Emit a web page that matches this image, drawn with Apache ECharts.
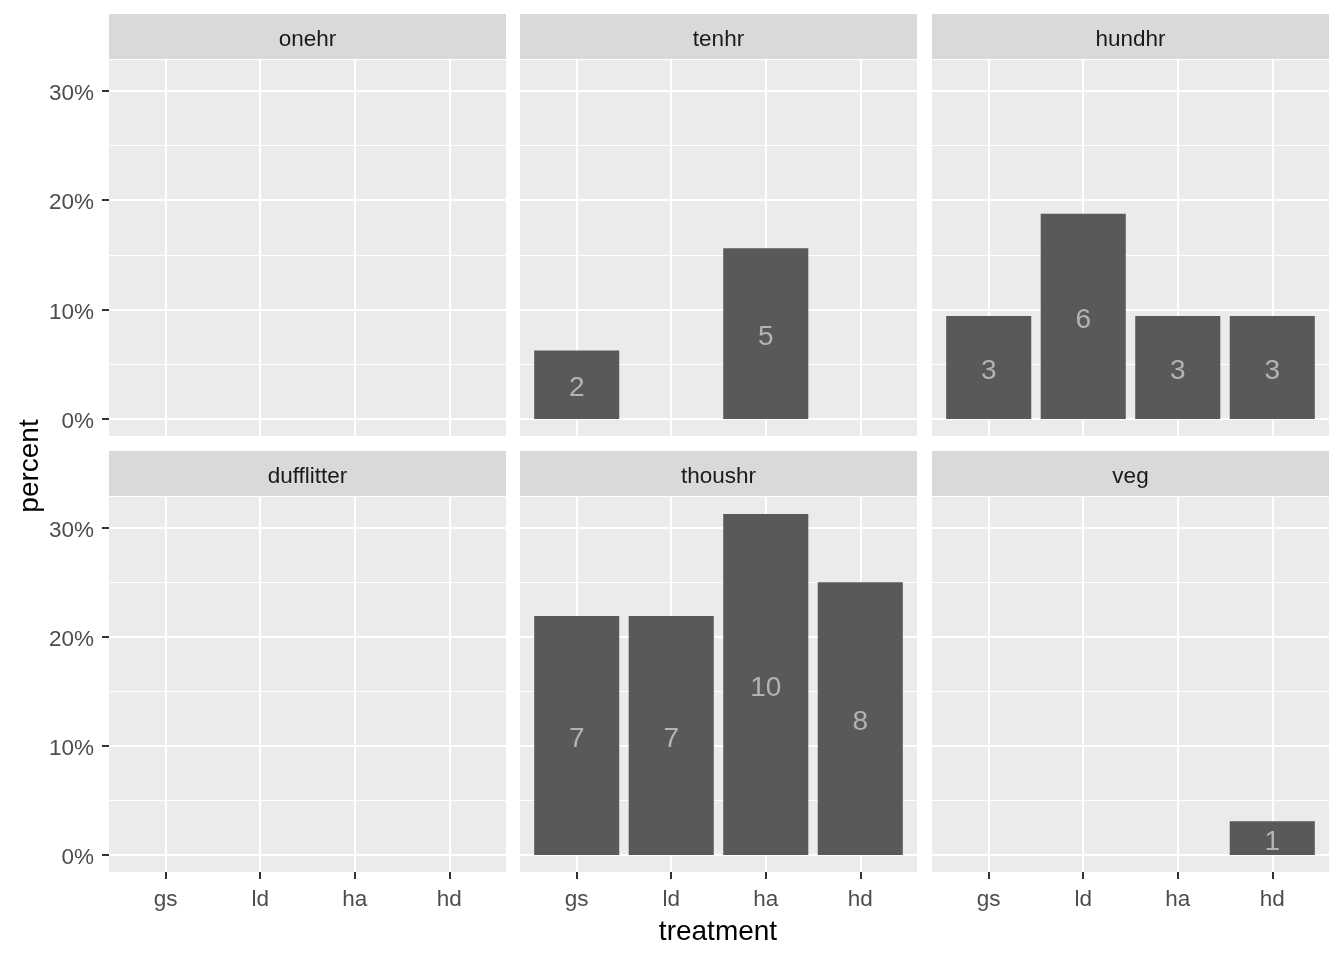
<!DOCTYPE html>
<html>
<head>
<meta charset="utf-8">
<script src="https://cdn.jsdelivr.net/npm/echarts@6/dist/echarts.min.js"></script>
<style>html,body{margin:0;padding:0;background:#fff}#c{width:1344px;height:960px}</style>
</head>
<body>
<div id="c"></div>
<script>
const facets = ['onehr', 'tenhr', 'hundhr', 'dufflitter', 'thoushr', 'veg'];
const treatments = ['gs', 'ld', 'ha', 'hd'];
const yTicks = [0, 10, 20, 30];
const yMinor = [5, 15, 25];
// percent of all observations, per facet, per treatment (null = no bar)
const pctOnehr = [null, null, null, null];
const pctTenhr = [6.25, null, 15.6, null];
const pctHundhr = [9.4, 18.75, 9.4, 9.4];
const pctDufflitter = [null, null, null, null];
const pctThoushr = [21.9, 21.9, 31.25, 25];
const pctVeg = [null, null, null, 3.1];
// counts shown as labels
const cntOnehr = [null, null, null, null];
const cntTenhr = [2, null, 5, null];
const cntHundhr = [3, 6, 3, 3];
const cntDufflitter = [null, null, null, null];
const cntThoushr = [7, 7, 10, 8];
const cntVeg = [null, null, null, 1];

const pcts = [pctOnehr, pctTenhr, pctHundhr, pctDufflitter, pctThoushr, pctVeg];
const cnts = [cntOnehr, cntTenhr, cntHundhr, cntDufflitter, cntThoushr, cntVeg];

const colLeft = [109, 520, 932];
const rowTop = [60, 497];
const rowH = [376, 375];
const panelW = 397;
const stripH = 45;
const xMin = 0.4, xMax = 4.6;
const yMin = -1.5625, yMax = 32.8125;
const barW = 0.9 * panelW / (xMax - xMin);
const font = '"Liberation Sans", Arial, sans-serif';

const grids = [], xAxes = [], yAxes = [], series = [], graphics = [];
facets.forEach((name, i) => {
  const col = i % 3, row = Math.floor(i / 3);
  grids.push({left: colLeft[col], top: rowTop[row], width: panelW, height: rowH[row],
    show: true, backgroundColor: '#EBEBEB', borderWidth: 0, containLabel: false});
  const bottomRow = row === 1, leftCol = col === 0;
  xAxes.push({type: 'value', gridIndex: i, min: xMin, max: xMax, position: 'bottom',
    axisLine: {show: false, onZero: false},
    axisTick: {show: bottomRow, customValues: [1, 2, 3, 4], length: 7, lineStyle: {color: '#333333', width: 2}},
    axisLabel: {show: bottomRow, customValues: [1, 2, 3, 4], formatter: v => treatments[Math.round(v) - 1],
      color: '#4D4D4D', fontSize: 22.5, fontFamily: font, margin: 16},
    splitLine: {show: true, lineStyle: {color: '#FFFFFF', width: 2}}});
  yAxes.push({type: 'value', gridIndex: i, min: yMin, max: yMax,
    axisLine: {show: false, onZero: false},
    axisTick: {show: leftCol, customValues: yTicks, length: 7, lineStyle: {color: '#333333', width: 2}},
    axisLabel: {show: leftCol, customValues: yTicks, formatter: v => '{a|' + Math.round(v) + '%}',
      margin: 15,
      rich: {a: {color: '#4D4D4D', fontSize: 22.5, fontFamily: font, padding: [6, 0, 0, 0]}}},
    splitLine: {show: true, lineStyle: {color: '#FFFFFF', width: 2}}});
  // minor gridlines axis
  yAxes.push({type: 'value', gridIndex: i, min: yMin, max: yMax, position: 'left',
    axisLine: {show: false, onZero: false},
    axisTick: {show: false, customValues: yMinor},
    axisLabel: {show: false, customValues: yMinor},
    splitLine: {show: true, lineStyle: {color: '#FFFFFF', width: 1}}});
  const data = [];
  pcts[i].forEach((v, k) => { if (v != null) data.push([k + 1, v, cnts[i][k]]); });
  series.push({type: 'bar', xAxisIndex: i, yAxisIndex: 2 * i, data: data,
    encode: {x: 0, y: 1}, barWidth: barW, itemStyle: {color: '#595959'},
    label: {show: true, position: 'inside', offset: [0, 4], formatter: p => String(p.value[2]),
      color: '#B3B3B3', fontSize: 28, fontFamily: font}});
  graphics.push({type: 'rect', shape: {x: colLeft[col], y: rowTop[row] - stripH - 1, width: panelW, height: stripH},
    style: {fill: '#D9D9D9'}, silent: true});
  graphics.push({type: 'text', x: colLeft[col] + panelW / 2, y: rowTop[row] - stripH / 2 + 2,
    style: {text: name, fill: '#1A1A1A', fontSize: 22.5, fontFamily: font, align: 'center', verticalAlign: 'middle'}});
});
graphics.push({type: 'text', x: 718, y: 932,
  style: {text: 'treatment', fill: '#000000', fontSize: 28, fontFamily: font, align: 'center', verticalAlign: 'middle'}});
graphics.push({type: 'text', x: 30, y: 466, rotation: Math.PI / 2,
  style: {text: 'percent', fill: '#000000', fontSize: 28, fontFamily: font, align: 'center', verticalAlign: 'middle'}});

const chart = echarts.init(document.getElementById('c'));
chart.setOption({animation: false, grid: grids, xAxis: xAxes, yAxis: yAxes, series: series, graphic: graphics});
</script>
</body>
</html>
